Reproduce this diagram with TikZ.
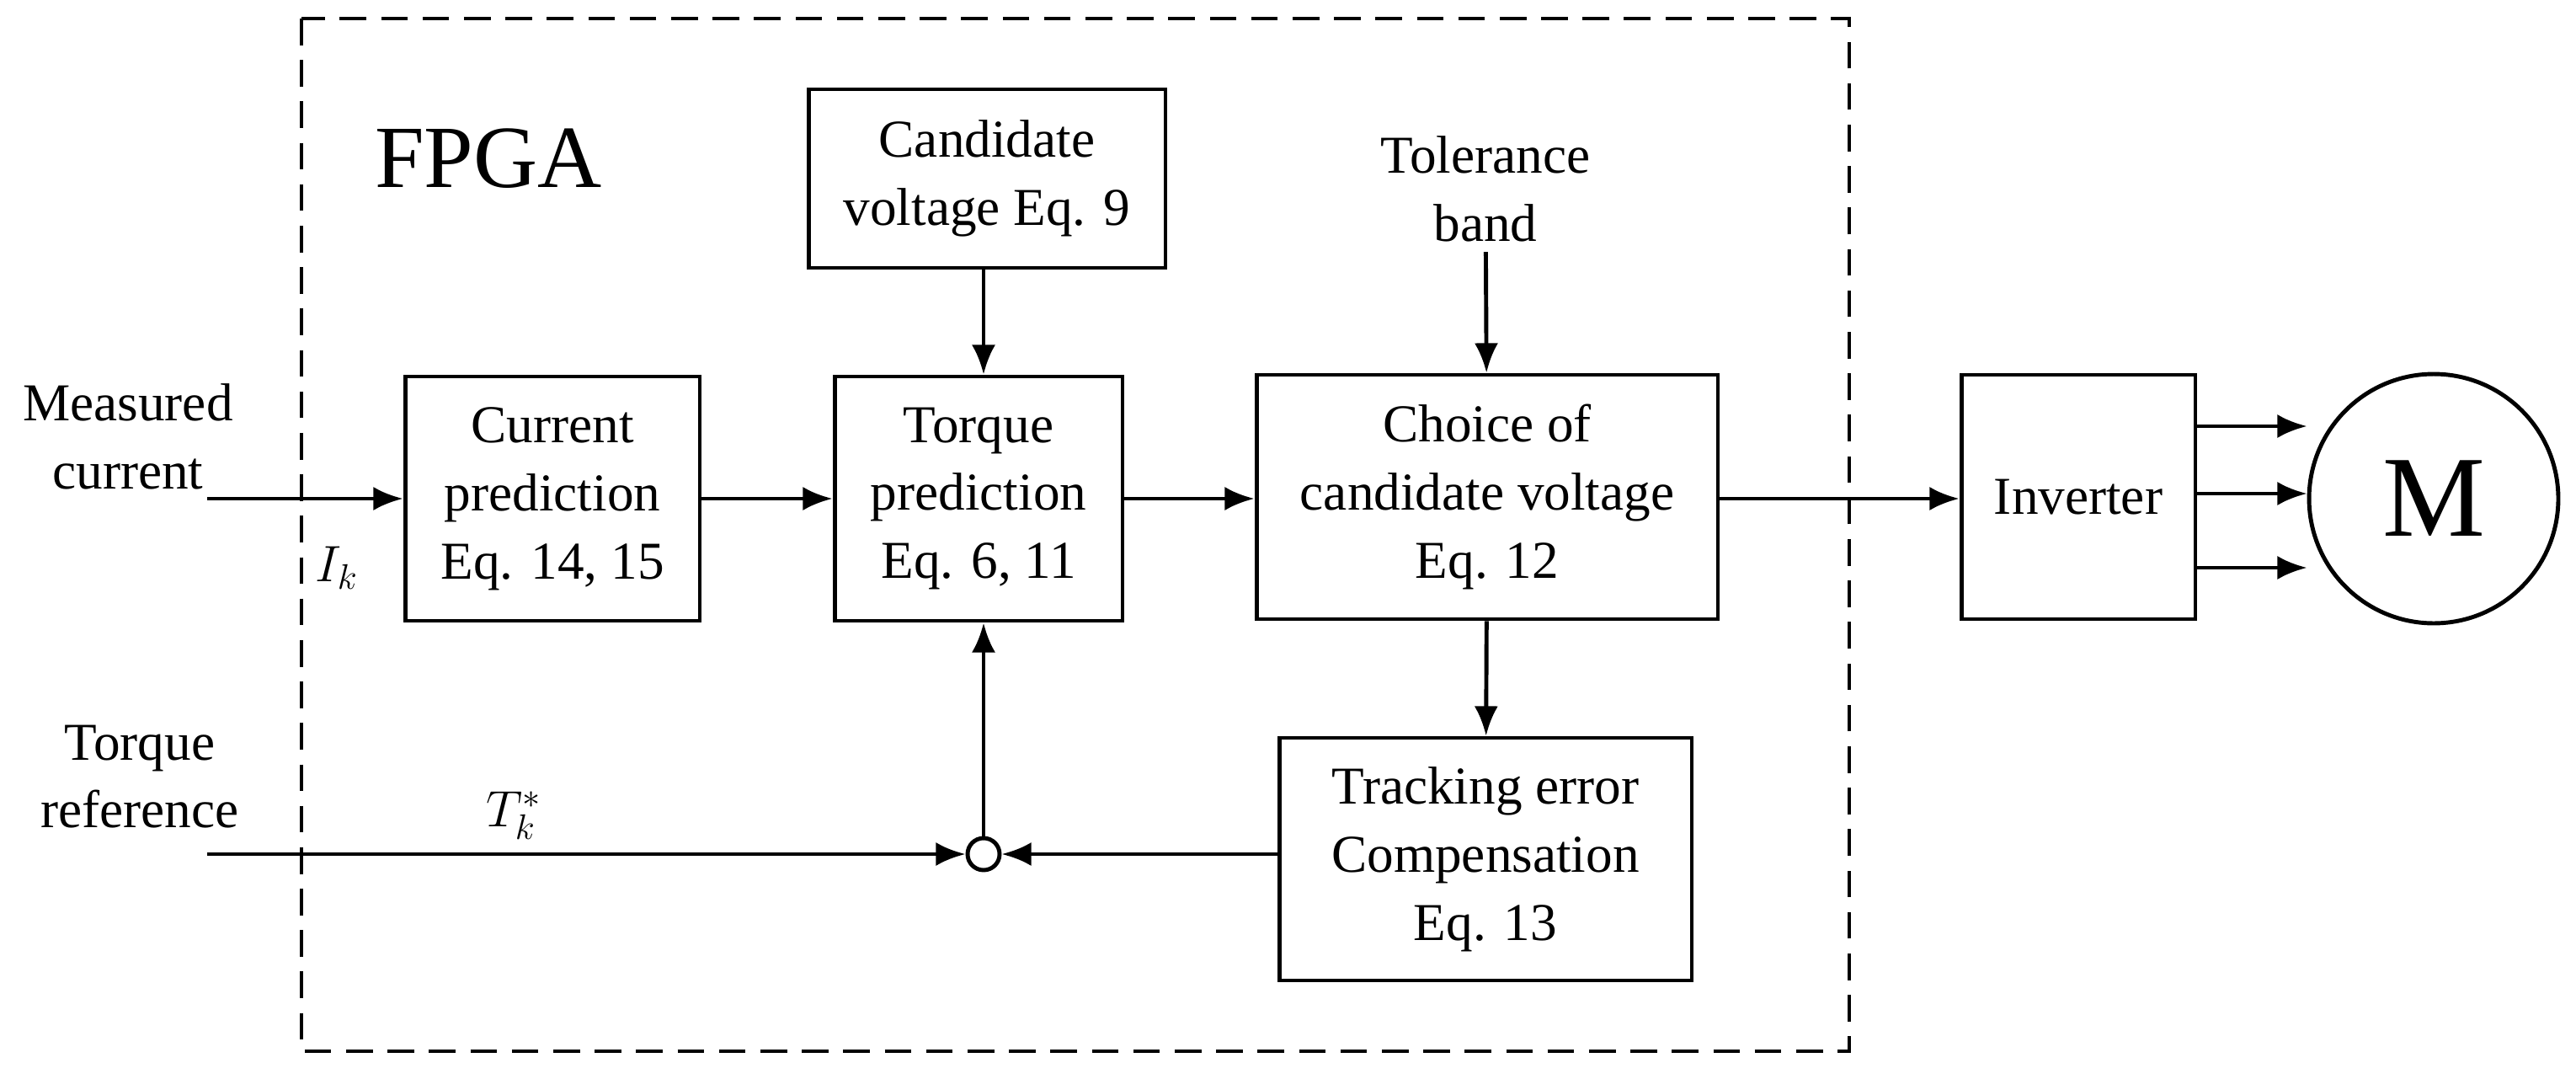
\documentclass[tikz,border=0pt]{standalone}
\usepackage{fontspec}
\setmainfont{Liberation Serif}
\usetikzlibrary{arrows.meta, positioning}

\begin{document}
\begin{tikzpicture}[
  x=0.02cm, y=-0.02cm,
  font=\fontsize{18}{23}\selectfont,
  box/.style={rectangle, draw, line width=1.4pt, align=center, inner sep=2pt},
  arr/.style={-{Latex[length=10pt,width=8pt]}, line width=1.4pt},
  lbl/.style={align=center}
]
\useasboundingbox (0,0) rectangle (1529.5,640.5);

% FPGA region
\draw[line width=1.1pt, dash pattern=on 9pt off 5pt] (179,11) rectangle (1098,624);
\node[font=\fontsize{30}{36}\selectfont] (fpga) at (290,94) {FPGA};

% blocks
\node[box, minimum width=4.24cm, minimum height=2.12cm] (cand) at (586,106) {Candidate\\voltage Eq. 9};
\node[box, minimum width=3.5cm, minimum height=2.9cm] (curr) at (328,296) {Current\\prediction\\Eq. 14, 15};
\node[box, minimum width=3.42cm, minimum height=2.9cm] (torq) at (581,296) {Torque\\prediction\\Eq. 6, 11};
\node[box, minimum width=5.48cm, minimum height=2.9cm] (choice) at (883,295) {Choice of\\candidate voltage\\Eq. 12};
\node[box, minimum width=4.9cm, minimum height=2.88cm] (track) at (882,510) {Tracking error\\Compensation\\Eq. 13};
\node[box, minimum width=2.78cm, minimum height=2.9cm] (inv) at (1234,295) {Inverter};
\node[circle, draw, line width=1.4pt, minimum size=2.96cm, inner sep=0pt, font=\fontsize{39}{44}\selectfont] (motor) at (1445,296) {M};
\node[circle, draw, line width=1.4pt, minimum size=0.38cm, inner sep=0pt] (sum) at (584,507) {};

% inputs
\node[lbl] (tol) at (882,112) {Tolerance\\band};
\node[lbl] (meas) at (76,259) {Measured\\current};
\node[lbl] (tref) at (83,461) {Torque\\reference};
\node (ik) at (200,337) {$I_k$};
\node (tk) at (305,484) {$T_k^{*}$};
\coordinate (measin) at (123,296);
\coordinate (trefin) at (123,507);

% Connections
\draw[arr] (measin) -- (curr.west |- measin);
\draw[arr] (curr.east |- measin) -- (torq.west |- measin);
\draw[arr] (cand.south -| sum) -- (torq.north -| sum);
\draw[arr] (torq.east |- measin) -- (choice.west |- measin);
\draw[arr] (tol) -- (choice);
\draw[arr] (choice.east |- measin) -- (inv.west |- measin);
\draw[arr] (choice) -- (track);
\draw[arr] (trefin) -- (sum);
\draw[arr] (track.west |- sum) -- (sum);
\draw[arr] (sum) -- (torq.south -| sum);
\foreach \yy in {253,293,337}
  \draw[arr] (inv.east |- 0,\yy) -- (motor.west |- 0,\yy);

\end{tikzpicture}
\end{document}
